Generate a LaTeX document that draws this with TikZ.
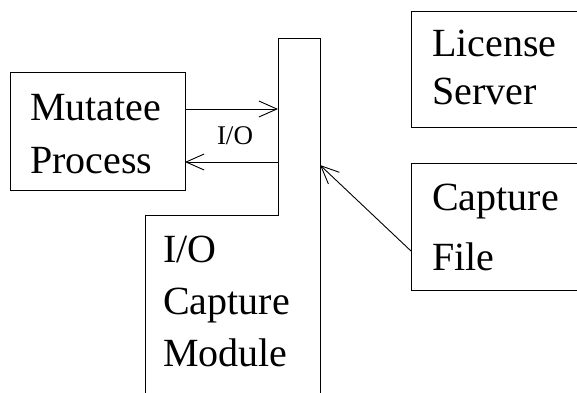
\documentclass[tikz,border=0pt]{standalone}
\usepackage{fontspec}
\setmainfont{Liberation Serif}
\usetikzlibrary{arrows.meta}
\begin{document}
\begin{tikzpicture}[x=1pt,y=-1pt,
  box/.style={draw,line width=1pt,inner sep=0pt,outer sep=0pt},
  lbl/.style={anchor=base west,inner sep=0pt,font=\fontsize{40}{48}\selectfont},
  small/.style={anchor=base,inner sep=0pt,font=\fontsize{27}{32}\selectfont},
  arr/.style={line width=0.9pt,-{Straight Barb[length=18pt,width=16pt,line width=0.9pt]}}]
\useasboundingbox (0,0) rectangle (577,392);
% boxes
\node[box,minimum width=175pt,minimum height=118pt] (mut) at (97.5,131) {};
\node[box,minimum width=200pt,minimum height=116pt] (lic) at (511,69) {};
\node[box,minimum width=200pt,minimum height=127pt] (cap) at (511,226.5) {};
% I/O capture module column
\coordinate (colTL) at (278,38);
\coordinate (colTR) at (320,38);
\coordinate (colBR) at (320,400);
\coordinate (colBL) at (145,400);
\coordinate (colNL) at (145,215);
\coordinate (colNR) at (278,215);
\draw[line width=1pt] (colTL) -- (colTR) -- (colBR) -- (colBL) -- (colNL) -- (colNR) -- cycle;
% texts
\node[lbl] (t1) at (30,120) {Mutatee};
\node[lbl] (t2) at (30,173) {Process};
\node[lbl] (t3) at (432,56) {License};
\node[lbl] (t4) at (432,104) {Server};
\node[lbl] (t5) at (432,210) {Capture};
\node[lbl] (t6) at (432,270) {File};
\node[lbl] (t7) at (163,262) {I/O};
\node[lbl] (t8) at (163,314) {Capture};
\node[lbl] (t9) at (163,366) {Module};
\node[small] (io) at (235,144) {I/O};
% connectors
\coordinate (a1e) at (278,109);
\coordinate (a2s) at (278,162);
\coordinate (a3e) at (320,165);
\draw[arr] (mut.east |- a1e) -- (a1e);
\draw[arr] (a2s) -- (mut.east |- a2s);
\draw[arr] (cap.west |- 0,251) -- (a3e);
\end{tikzpicture}
\end{document}
